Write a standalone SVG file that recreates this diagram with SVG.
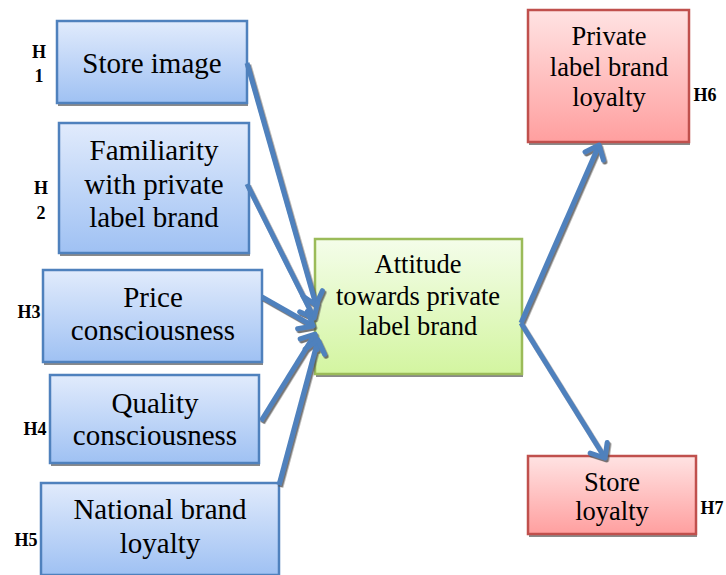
<svg xmlns="http://www.w3.org/2000/svg" width="726" height="575" viewBox="0 0 726 575">
<defs>
<linearGradient id="gb" x1="0" y1="0" x2="0" y2="1"><stop offset="0" stop-color="#e1ebfc"/><stop offset="1" stop-color="#9fc1f3"/></linearGradient>
<linearGradient id="gg" x1="0" y1="0" x2="0" y2="1"><stop offset="0" stop-color="#f4fdea"/><stop offset="1" stop-color="#d3f5a0"/></linearGradient>
<linearGradient id="gr" x1="0" y1="0" x2="0" y2="1"><stop offset="0" stop-color="#ffe3e3"/><stop offset="1" stop-color="#ff9f9f"/></linearGradient>
<marker id="ah" markerUnits="userSpaceOnUse" markerWidth="30" markerHeight="30" viewBox="-15 -15 30 30" refX="0" refY="0" orient="auto" overflow="visible">
<path d="M-12,-10 L0,0 L-12,10" fill="none" stroke="#4f81bd" stroke-width="5" stroke-linecap="round" stroke-linejoin="round"/>
</marker>
<filter id="sh" x="-10%" y="-10%" width="130%" height="130%"><feDropShadow dx="1.5" dy="2" stdDeviation="0.6" flood-color="#555" flood-opacity="0.8"/></filter>
</defs>
<style>
.b{fill:url(#gb);stroke:#4f81bd;stroke-width:2.5}
.g{fill:url(#gg);stroke:#9bbb59;stroke-width:2.5}
.r{fill:url(#gr);stroke:#c0504d;stroke-width:2.5}
.s{fill:#8a8a8a}
text{font-family:'Liberation Serif','DejaVu Serif',serif;fill:#000;text-anchor:middle}
.t{font-size:29px}
.u{font-size:26.5px}
.h{font-size:18px;font-weight:bold}
.c{fill:none;stroke:#4f81bd;stroke-width:5;marker-end:url(#ah)}
</style>
<g id="n1"><rect class="s" x="58" y="103" width="190" height="3"/><rect class="b" x="57" y="21" width="190" height="82"/><text class="t" x="152" y="73">Store image</text></g>
<g id="n2"><rect class="s" x="60" y="253" width="190" height="3"/><rect class="b" x="59" y="123" width="190" height="130"/><text class="t" x="154" y="160">Familiarity</text><text class="t" x="154" y="194">with private</text><text class="t" x="154" y="227">label brand</text></g>
<g id="n3"><rect class="s" x="44" y="362" width="219" height="3"/><rect class="b" x="43" y="270" width="219" height="92"/><text class="t" x="153" y="307">Price</text><text class="t" x="153" y="340">consciousness</text></g>
<g id="n4"><rect class="s" x="51" y="463" width="209" height="3"/><rect class="b" x="50" y="375" width="209" height="88"/><text class="t" x="155" y="413">Quality</text><text class="t" x="155" y="445">consciousness</text></g>
<g id="n5"><rect class="b" x="41" y="483" width="238" height="92"/><text class="t" x="160" y="519">National brand</text><text class="t" x="160" y="553">loyalty</text></g>
<g id="n6"><rect class="s" x="316" y="374" width="207" height="3"/><rect class="g" x="315" y="239" width="207" height="135"/><text class="u" x="418" y="273">Attitude</text><text class="u" x="418" y="305">towards private</text><text class="u" x="418" y="335">label brand</text></g>
<g id="n7"><rect class="s" x="529" y="142" width="161" height="3"/><rect class="r" x="528" y="10" width="161" height="132"/><text class="u" x="609" y="45">Private</text><text class="u" x="609" y="76">label brand</text><text class="u" x="609" y="106">loyalty</text></g>
<g id="n8"><rect class="s" x="529" y="534" width="168" height="3"/><rect class="r" x="528" y="456" width="168" height="78"/><text class="u" x="612" y="491">Store</text><text class="u" x="612" y="520">loyalty</text></g>
<g id="labels">
<text class="h" x="39" y="58">H</text><text class="h" x="39" y="82">1</text>
<text class="h" x="41" y="194">H</text><text class="h" x="41" y="219">2</text>
<text class="h" x="29" y="318">H3</text>
<text class="h" x="35" y="435">H4</text>
<text class="h" x="26" y="546">H5</text>
<text class="h" x="705" y="101">H6</text>
<text class="h" x="712" y="514">H7</text>
</g>
<g id="connectors" filter="url(#sh)">
<line class="c" x1="247" y1="63" x2="316" y2="305"/>
<line class="c" x1="247" y1="184" x2="314" y2="318"/>
<line class="c" x1="262" y1="297" x2="313" y2="326"/>
<line class="c" x1="261" y1="421" x2="315" y2="334"/>
<line class="c" x1="279" y1="485" x2="318" y2="340"/>
<polyline class="c" points="521,323 599,145" />
<polyline class="c" points="521,323 605,458" />
</g>
</svg>
